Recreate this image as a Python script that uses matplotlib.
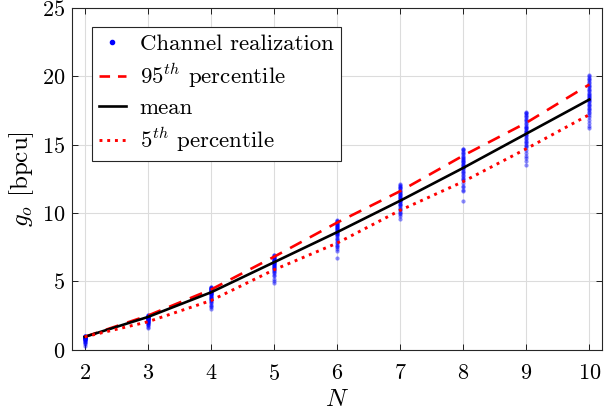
import numpy as np
import matplotlib
matplotlib.use("Agg")
import matplotlib.pyplot as plt
from matplotlib.lines import Line2D

plt.rcParams['font.family'] = 'serif'
plt.rcParams['font.serif'] = ['cmr10']
plt.rcParams['mathtext.fontset'] = 'cm'
plt.rcParams['axes.formatter.use_mathtext'] = True

# --- data ---
N = [2, 3, 4, 5, 6, 7, 8, 9, 10]
g_mean = [0.95, 2.4, 4.2, 6.4, 8.6, 10.9, 13.3, 15.8, 18.3]
g_p95 = [0.95, 2.5, 4.4, 6.8, 9.3, 11.6, 14.2, 16.6, 19.4]
g_p5 = [0.95, 2.05, 3.6, 5.85, 7.8, 10.2, 12.3, 14.7, 17.2]

# channel realizations, sampled by eye from each vertical strip
real_2 = [1.0, 1.0, 0.99, 0.98, 0.97, 0.96, 0.95, 0.95, 0.94, 0.93, 0.92,
          0.91, 0.9, 0.9, 0.89, 0.88, 0.86, 0.85, 0.83, 0.82, 0.8, 0.78,
          0.75, 0.72, 0.7, 0.65, 0.6, 0.55, 0.5, 0.4, 0.3]
real_3 = [2.55, 2.52, 2.5, 2.48, 2.46, 2.45, 2.43, 2.42, 2.4, 2.39, 2.38,
          2.36, 2.35, 2.33, 2.3, 2.28, 2.26, 2.25, 2.22, 2.2, 2.18, 2.15,
          2.12, 2.1, 2.07, 2.05, 2.0, 1.97, 1.95, 1.9, 1.85, 1.8, 1.7, 1.6]
real_4 = [4.6, 4.57, 4.55, 4.52, 4.5, 4.47, 4.45, 4.42, 4.4, 4.37, 4.35,
          4.32, 4.3, 4.27, 4.25, 4.22, 4.2, 4.17, 4.15, 4.12, 4.1, 4.05,
          4.0, 3.95, 3.9, 3.85, 3.8, 3.75, 3.7, 3.65, 3.6, 3.5, 3.4, 3.3,
          3.2, 3.1, 3.0]
real_5 = [6.95, 6.9, 6.85, 6.8, 6.77, 6.75, 6.7, 6.65, 6.6, 6.57, 6.55,
          6.5, 6.47, 6.45, 6.4, 6.37, 6.35, 6.3, 6.25, 6.2, 6.15, 6.1, 6.05,
          6.0, 5.95, 5.9, 5.85, 5.8, 5.7, 5.6, 5.5, 5.4, 5.2, 5.0, 4.9]
real_6 = [9.5, 9.45, 9.4, 9.35, 9.3, 9.25, 9.2, 9.15, 9.1, 9.05, 9.0, 8.95,
          8.9, 8.85, 8.8, 8.75, 8.7, 8.65, 8.6, 8.55, 8.5, 8.45, 8.4, 8.3,
          8.2, 8.1, 8.0, 7.9, 7.8, 7.7, 7.6, 7.5, 7.4, 7.2, 6.7]
real_7 = [12.1, 12.05, 12.0, 11.9, 11.85, 11.8, 11.7, 11.6, 11.55, 11.5,
          11.4, 11.35, 11.3, 11.2, 11.15, 11.1, 11.0, 10.95, 10.9, 10.85,
          10.8, 10.7, 10.65, 10.6, 10.5, 10.4, 10.3, 10.2, 10.1, 10.0, 9.9,
          9.8, 9.6]
real_8 = [14.7, 14.65, 14.6, 14.5, 14.4, 14.3, 14.2, 14.1, 14.0, 13.95,
          13.9, 13.8, 13.75, 13.7, 13.6, 13.55, 13.5, 13.4, 13.35, 13.3,
          13.2, 13.1, 13.0, 12.9, 12.8, 12.7, 12.6, 12.5, 12.4, 12.2, 12.0,
          11.9, 11.7, 11.6, 10.9]
real_9 = [17.4, 17.35, 17.3, 17.2, 17.1, 17.0, 16.9, 16.8, 16.7, 16.6,
          16.5, 16.4, 16.3, 16.25, 16.2, 16.1, 16.0, 15.95, 15.9, 15.8, 15.7,
          15.6, 15.5, 15.4, 15.3, 15.2, 15.1, 15.0, 14.9, 14.8, 14.6, 14.4,
          14.2, 14.0, 13.8, 13.5]
real_10 = [20.1, 20.0, 19.9, 19.8, 19.7, 19.6, 19.5, 19.4, 19.3, 19.2,
           19.1, 19.0, 18.9, 18.8, 18.7, 18.6, 18.55, 18.5, 18.4, 18.35,
           18.3, 18.2, 18.1, 18.0, 17.9, 17.8, 17.7, 17.6, 17.5, 17.4, 17.3,
           17.2, 17.0, 16.8, 16.6, 16.4, 16.2]
realizations = [real_2, real_3, real_4, real_5, real_6, real_7, real_8, real_9, real_10]

fig = plt.figure(figsize=(6.13, 4.16), dpi=100)
ax = fig.add_axes([0.1175, 0.159, 0.8645, 0.822])

for n, vals in zip(N, realizations):
    ax.plot([n] * len(vals), vals, '.', color='blue', markersize=6,
            alpha=0.45, markeredgewidth=0, zorder=2)

ax.plot(N, g_p95, '--', color='red', linewidth=1.9, dashes=(5, 3.5), zorder=3)
ax.plot(N, g_mean, '-', color='black', linewidth=1.9, zorder=3)
ax.plot(N, g_p5, ':', color='red', linewidth=2.1, zorder=3)

ax.set_xlim(1.8, 10.2)
ax.set_ylim(0, 25)
ax.set_xticks(N)
ax.set_yticks([0, 5, 10, 15, 20, 25])
ax.tick_params(direction='in', labelsize=16, top=True, right=True,
               length=4, width=0.6)
ax.tick_params(axis='x', pad=10)
ax.tick_params(axis='y', pad=5)
ax.grid(True, color='#dcdcdc', linewidth=0.8)
ax.set_axisbelow(True)
for sp in ax.spines.values():
    sp.set_linewidth(0.8)
    sp.set_color('#262626')

ax.set_xlabel(r'$N$', fontsize=18, labelpad=4)
ax.set_ylabel(r'$g_o$ [bpcu]', fontsize=18, labelpad=4)

handles = [
    Line2D([], [], linestyle='none', marker='.', color='blue', markersize=6),
    Line2D([], [], linestyle='--', color='red', linewidth=1.9, dashes=(4, 3)),
    Line2D([], [], linestyle='-', color='black', linewidth=1.9),
    Line2D([], [], linestyle=':', color='red', linewidth=2.1),
]
labels = ['Channel realization', r'95$^{th}$ percentile', 'mean', r'5$^{th}$ percentile']
leg = ax.legend(handles, labels, loc='upper left', fontsize=16.5,
                bbox_to_anchor=(0.037, 0.944), fancybox=False, framealpha=1,
                edgecolor='#262626', handlelength=1.2, borderpad=0.3,
                labelspacing=0.33, handletextpad=0.6, borderaxespad=0)
leg.get_frame().set_linewidth(0.8)

fig.savefig('out.png', dpi=100)
